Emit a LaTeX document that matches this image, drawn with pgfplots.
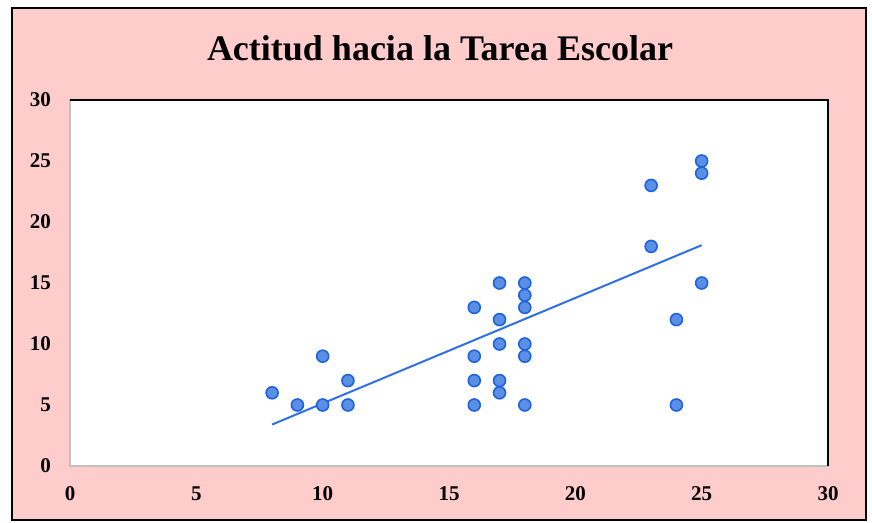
\documentclass[border=0pt]{standalone}
\usepackage{fontspec}
\setmainfont{Liberation Serif}
\usepackage{pgfplots}
\pgfplotsset{compat=1.18}
\definecolor{fondo}{HTML}{FFCCCC}
\definecolor{punto}{HTML}{5A8FE3}
\definecolor{borde}{HTML}{1D63E0}
\definecolor{linea}{HTML}{2F70E6}

\begin{document}
\begin{tikzpicture}
\useasboundingbox (-35pt,-28.5pt) rectangle (401pt,233pt);
\fill[fondo,draw=black,line width=0.8pt] (-29pt,-27pt) rectangle (398pt,229pt);
\begin{axis}[at={(0,0)},anchor=south west,scale only axis,
  width=379pt,height=183pt,
  xmin=0,xmax=30,ymin=0,ymax=30,
  xtick={0,5,...,30},ytick={0,5,...,30},
  major tick length=0pt,
  axis background/.style={fill=white},
  axis line style={draw=black!25,line width=0.8pt},
  tick label style={font=\fontsize{10.5}{12}\selectfont\bfseries},
  /pgf/number format/assume math mode=true,
  xticklabel style={anchor=center,yshift=-14pt},
  yticklabel style={anchor=east,xshift=-6pt},
  clip=false]
% puntos
\addplot[only marks,mark=*,mark size=3pt,
  mark options={fill=punto,draw=borde,line width=0.8pt}] coordinates {
  (8,6) (9,5) (10,5) (10,9) (11,7) (11,5)
  (16,13) (16,9) (16,7) (16,5)
  (17,15) (17,12) (17,10) (17,7) (17,6)
  (18,15) (18,14) (18,13) (18,10) (18,9) (18,5)
  (23,23) (23,18) (24,12) (24,5)
  (25,25) (25,24) (25,15)};
% linea de tendencia
\addplot[linea,line width=1pt] coordinates {(8,3.4) (25,18.1)};
\draw[black,line width=0.8pt] (rel axis cs:0,1) -- (rel axis cs:1,1) -- (rel axis cs:1,0);
\end{axis}
\node[font=\fontsize{18}{21}\selectfont\bfseries] at (185pt,209pt) {Actitud hacia la Tarea Escolar};
\end{tikzpicture}
\end{document}
